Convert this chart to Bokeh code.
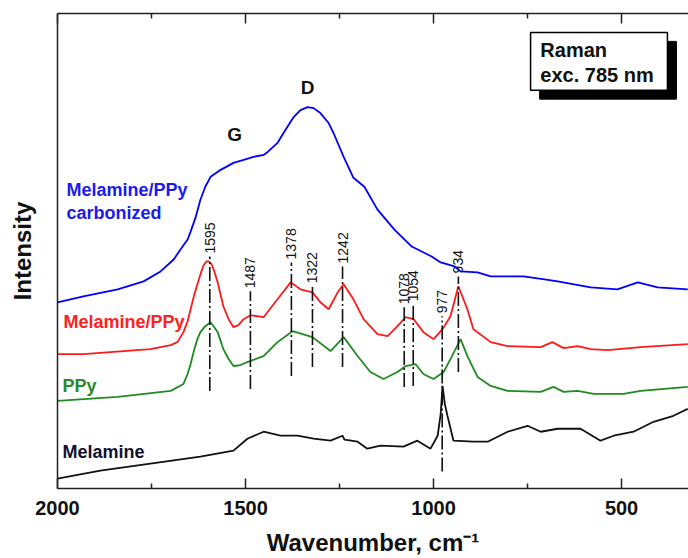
import math
from bokeh.plotting import figure
from bokeh.models import Range1d, LinearAxis, FixedTicker, Label, CustomLabelingPolicy
from bokeh.embed import file_html
from bokeh.resources import INLINE
from bokeh.core.properties import value

FONT = "Liberation Sans"

# ---------------- data (wavenumber in cm-1, intensity in arbitrary units) ----------------
carb_wn = [2000, 1931, 1840, 1771, 1726, 1691, 1673, 1654, 1646, 1633, 1620, 1607, 1593, 1566,
           1532, 1505, 1479, 1452, 1441, 1415, 1399, 1372, 1354, 1335, 1319, 1301, 1279, 1266,
           1239, 1213, 1184, 1149, 1104, 1058, 1005, 981, 944, 928, 883, 848, 793, 761, 705,
           670, 582, 511, 457, 404, 324]
carb_int = [187, 193, 200, 208, 218, 230, 240, 250, 258, 272, 290, 303, 313, 320,
            327, 330, 333, 335, 338, 347, 357, 373, 380, 383, 382, 377, 367, 357,
            333, 312, 303, 280, 260, 243, 233, 227, 223, 218, 217, 213, 213, 213, 210,
            208, 202, 200, 207, 202, 200]

mp_wn = [2000, 1931, 1753, 1699, 1681, 1665, 1654, 1646, 1636, 1628, 1620, 1612, 1604, 1598,
         1590, 1583, 1574, 1566, 1559, 1545, 1532, 1519, 1505, 1487, 1452, 1415, 1380, 1354,
         1322, 1301, 1279, 1255, 1239, 1213, 1186, 1149, 1122, 1096, 1074, 1053, 1027, 1000,
         976, 955, 934, 910, 894, 848, 803, 715, 684, 654, 617, 582, 537, 449, 324]
mp_int = [135, 135, 140, 144, 147, 157, 168, 180, 195, 205, 215, 224, 228, 228,
          225, 218, 207, 194, 183, 170, 162, 164, 170, 174, 172, 190, 207, 200,
          197, 187, 180, 197, 205, 190, 170, 155, 153, 163, 172, 170, 157, 150,
          160, 173, 203, 180, 160, 147, 143, 142, 147, 141, 143, 140, 139, 142, 145]

ppy_wn = [2000, 1840, 1699, 1665, 1654, 1646, 1636, 1628, 1620, 1607, 1593, 1583, 1574, 1566,
          1559, 1545, 1532, 1513, 1495, 1452, 1415, 1375, 1322, 1274, 1239, 1202, 1168, 1133,
          1096, 1074, 1048, 1027, 1000, 973, 955, 928, 910, 883, 848, 803, 715, 681, 654, 617,
          574, 495, 449, 324]
ppy_int = [88, 92, 98, 105, 115, 125, 140, 150, 157, 163, 167, 162, 157, 148,
           140, 130, 123, 124, 127, 133, 147, 158, 152, 138, 152, 133, 117, 110,
           117, 123, 125, 115, 110, 117, 130, 150, 133, 112, 103, 98, 97, 102, 97, 98,
           95, 95, 98, 102]

mel_wn = [2000, 1886, 1753, 1620, 1532, 1495, 1452, 1407, 1362, 1319, 1274, 1242, 1237, 1202,
          1176, 1141, 1080, 1043, 1008, 989, 981, 976, 970, 963, 947, 894, 856, 803, 750,
          715, 670, 609, 556, 521, 468, 415, 362, 324]
mel_int = [10, 18, 25, 32, 38, 50, 57, 53, 53, 50, 48, 53, 49, 47,
           40, 43, 42, 48, 40, 53, 75, 103, 85, 73, 48, 47, 47, 57, 63,
           57, 60, 60, 48, 53, 57, 67, 73, 80]

peak_wn = [1595, 1487, 1378, 1322, 1242, 1078, 1054, 977, 934]
peak_labels = ["1595", "1487", "1378", "1322", "1242", "1078", "1054", "977", "934"]
peak_low = [98, 100, 113, 122, 122, 102, 103, 17, 117]
peak_high = [233, 198, 227, 203, 223, 182, 185, 173, 213]

x_ticks = [2000, 1500, 1000, 500]
x_minor = [1750, 1250, 750]
x_title = "Wavenumber, cm\u207b\u00b9"

# ---------------- figure ----------------
p = figure(width=688, height=558, output_backend="svg", toolbar_location=None,
           x_range=Range1d(2000, 322), y_range=Range1d(0, 477),
           x_axis_location=None, y_axis_location=None,
           min_border_left=57, min_border_right=0, min_border_top=13, min_border_bottom=68)
p.outline_line_color = None
p.background_fill_color = "white"
p.border_fill_color = "white"
p.xgrid.visible = False
p.ygrid.visible = False

AX_COLOR = "#222222"


def style_ticks(ax):
    ax.major_tick_in = 10
    ax.major_tick_out = 0
    ax.minor_tick_in = 5
    ax.minor_tick_out = 0
    ax.axis_line_width = 1.5
    ax.axis_line_color = AX_COLOR
    ax.major_tick_line_color = AX_COLOR
    ax.minor_tick_line_color = AX_COLOR
    ax.major_tick_line_width = 1.5
    ax.minor_tick_line_width = 1.5


bottom = LinearAxis(ticker=FixedTicker(ticks=x_ticks, minor_ticks=x_minor))
bottom.axis_label = x_title
bottom.axis_label_text_font = FONT
bottom.axis_label_text_font_style = "bold"
bottom.axis_label_text_font_size = "24px"
bottom.axis_label_text_color = "#111111"
bottom.axis_label_standoff = 11
bottom.major_label_text_font = FONT
bottom.major_label_text_font_style = "bold"
bottom.major_label_text_font_size = "20px"
bottom.major_label_text_color = "#111111"
bottom.major_label_standoff = 12
style_ticks(bottom)
p.add_layout(bottom, "below")

top = LinearAxis(ticker=FixedTicker(ticks=x_ticks, minor_ticks=x_minor))
top.major_label_policy = CustomLabelingPolicy(code="for (const i of Array.from(indices)) indices.unset(i)")
top.major_label_standoff = 0
top.major_label_text_font_size = "1px"
style_ticks(top)
p.add_layout(top, "above")

left = LinearAxis(ticker=FixedTicker(ticks=[], minor_ticks=[]))
left.axis_label = "Intensity"
left.axis_label_text_font = FONT
left.axis_label_text_font_style = "bold"
left.axis_label_text_font_size = "24px"
left.axis_label_text_color = "#111111"
left.axis_label_standoff = 22
left.major_label_standoff = 0
left.major_tick_line_color = None
left.minor_tick_line_color = None
left.major_tick_in = 0
left.major_tick_out = 0
left.minor_tick_in = 0
left.minor_tick_out = 0
left.axis_line_width = 1.5
left.axis_line_color = AX_COLOR
p.add_layout(left, "left")

# ---------------- spectra ----------------
p.line(mel_wn, mel_int, line_color="#111111", line_width=1.8)
p.line(ppy_wn, ppy_int, line_color="#1f8a1f", line_width=1.8)
p.line(mp_wn, mp_int, line_color="#ff1a1a", line_width=1.8)
p.line(carb_wn, carb_int, line_color="#0000ff", line_width=1.8)

# peak markers
p.segment(x0=peak_wn, y0=peak_low, x1=peak_wn, y1=peak_high,
          line_color="#111111", line_width=1.6, line_dash="14 3 2 3")
p.text(x=peak_wn, y=[h + 3 for h in peak_high], text=peak_labels, angle=math.pi / 2,
       text_font=value(FONT), text_font_size="14px", text_align="left",
       text_baseline="middle", text_color="#111111")

# curve labels
lab_style = dict(text_font=FONT, text_font_style="bold", text_font_size="18px",
                 text_baseline="middle", text_align="left")
p.add_layout(Label(x=1976, y=300, text="Melamine/PPy", text_color="#1a1aee", **lab_style))
p.add_layout(Label(x=1976, y=277, text="carbonized", text_color="#1a1aee", **lab_style))
p.add_layout(Label(x=1984, y=167, text="Melamine/PPy", text_color="#ff2020", **lab_style))
p.add_layout(Label(x=1987, y=103, text="PPy", text_color="#2a8a2a", **lab_style))
p.add_layout(Label(x=1987, y=37, text="Melamine", text_color="#111133", **lab_style))

band_style = dict(text_font=FONT, text_font_style="bold", text_font_size="19px",
                  text_baseline="middle", text_align="center", text_color="#111111")
p.add_layout(Label(x=1529, y=355, text="G", **band_style))
p.add_layout(Label(x=1335, y=403, text="D", **band_style))

# info box with shadow
box_l, box_r, box_t, box_b = 742, 378, 458, 400
shadow_dx, shadow_dy = 24, 9
p.quad(left=box_l - shadow_dx, right=box_r - shadow_dx, top=box_t - shadow_dy,
       bottom=box_b - shadow_dy, fill_color="black", line_color="black")
p.quad(left=box_l, right=box_r, top=box_t, bottom=box_b, fill_color="white",
       line_color="black", line_width=1.5)
info_style = dict(text_font=FONT, text_font_style="bold", text_font_size="20px",
                  text_baseline="middle", text_align="left", text_color="#111111")
p.add_layout(Label(x=716, y=440, text="Raman", **info_style))
p.add_layout(Label(x=716, y=415, text="exc. 785 nm", **info_style))

open("out.html", "w").write(file_html(p, INLINE))
